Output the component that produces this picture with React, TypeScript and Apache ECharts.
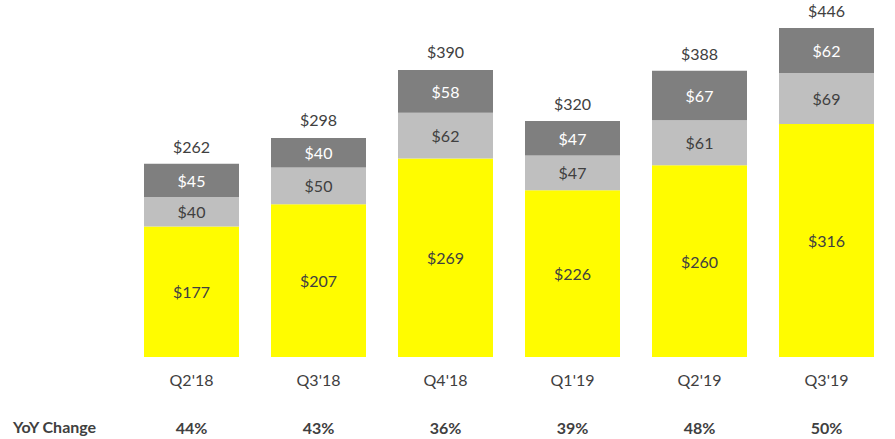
import React, { useEffect, useRef } from "react";
import * as echarts from "echarts";

const categories = ["Q2'18", "Q3'18", "Q4'18", "Q1'19", "Q2'19", "Q3'19"];
const baseValues = [177, 207, 269, 226, 260, 316];
const midValues = [40, 50, 62, 47, 61, 69];
const topValues = [45, 40, 58, 47, 67, 62];
const totals = [262, 298, 390, 320, 388, 446];
const yoyChange = ["44%", "43%", "36%", "39%", "48%", "50%"];

const FONT = "Lato, 'Noto Sans', sans-serif";
const TEXT = "#404040";
const FS = 16;

export default function App() {
  const ref = useRef<HTMLDivElement>(null);
  useEffect(() => {
    document.body.style.margin = "0";
    if (!ref.current) return;
    const chart = echarts.init(ref.current, undefined, { renderer: "svg" });
    const label = (color: string) => ({
      show: true,
      position: "inside" as const,
      color,
      fontFamily: FONT,
      fontSize: FS,
      formatter: (p: any) => "$" + p.value,
    });
    chart.setOption({
      animation: false,
      grid: { left: 128, right: 5, top: 28, bottom: 82 },
      xAxis: [
        {
          type: "category",
          data: categories,
          axisLine: { show: false },
          axisTick: { show: false },
          axisLabel: { margin: 14, color: TEXT, fontFamily: FONT, fontSize: FS },
        },
        {
          type: "category",
          position: "bottom",
          data: yoyChange,
          axisLine: { show: false },
          axisTick: { show: false },
          axisLabel: {
            margin: 62,
            color: TEXT,
            fontFamily: FONT,
            fontSize: FS,
            fontWeight: "bold",
          },
        },
      ],
      yAxis: {
        type: "value",
        min: 0,
        max: 446,
        show: false,
        splitLine: { show: false },
      },
      graphic: [
        {
          type: "text",
          left: 13,
          top: 418,
          style: {
            text: "YoY Change",
            fill: TEXT,
            font: `bold ${FS}px ${FONT}`,
          },
        },
      ],
      series: [
        {
          type: "bar",
          stack: "rev",
          barWidth: 95,
          data: baseValues,
          itemStyle: { color: "#FFFC00" },
          label: label(TEXT),
        },
        {
          type: "bar",
          stack: "rev",
          barWidth: 95,
          data: midValues,
          itemStyle: { color: "#BFBFBF" },
          label: label(TEXT),
        },
        {
          type: "bar",
          stack: "rev",
          barWidth: 95,
          data: topValues,
          itemStyle: { color: "#7F7F7F" },
          label: label("#ffffff"),
        },
        {
          type: "scatter",
          data: totals,
          symbolSize: 1,
          itemStyle: { color: "rgba(0,0,0,0)", opacity: 1 },
          silent: true,
          label: {
            show: true,
            position: "top",
            distance: 9,
            color: TEXT,
            fontFamily: FONT,
            fontSize: FS,
            formatter: (p: any) => "$" + p.value,
          },
        },
      ],
    });
    return () => chart.dispose();
  }, []);
  return <div ref={ref} style={{ width: 895, height: 439 }} />;
}
